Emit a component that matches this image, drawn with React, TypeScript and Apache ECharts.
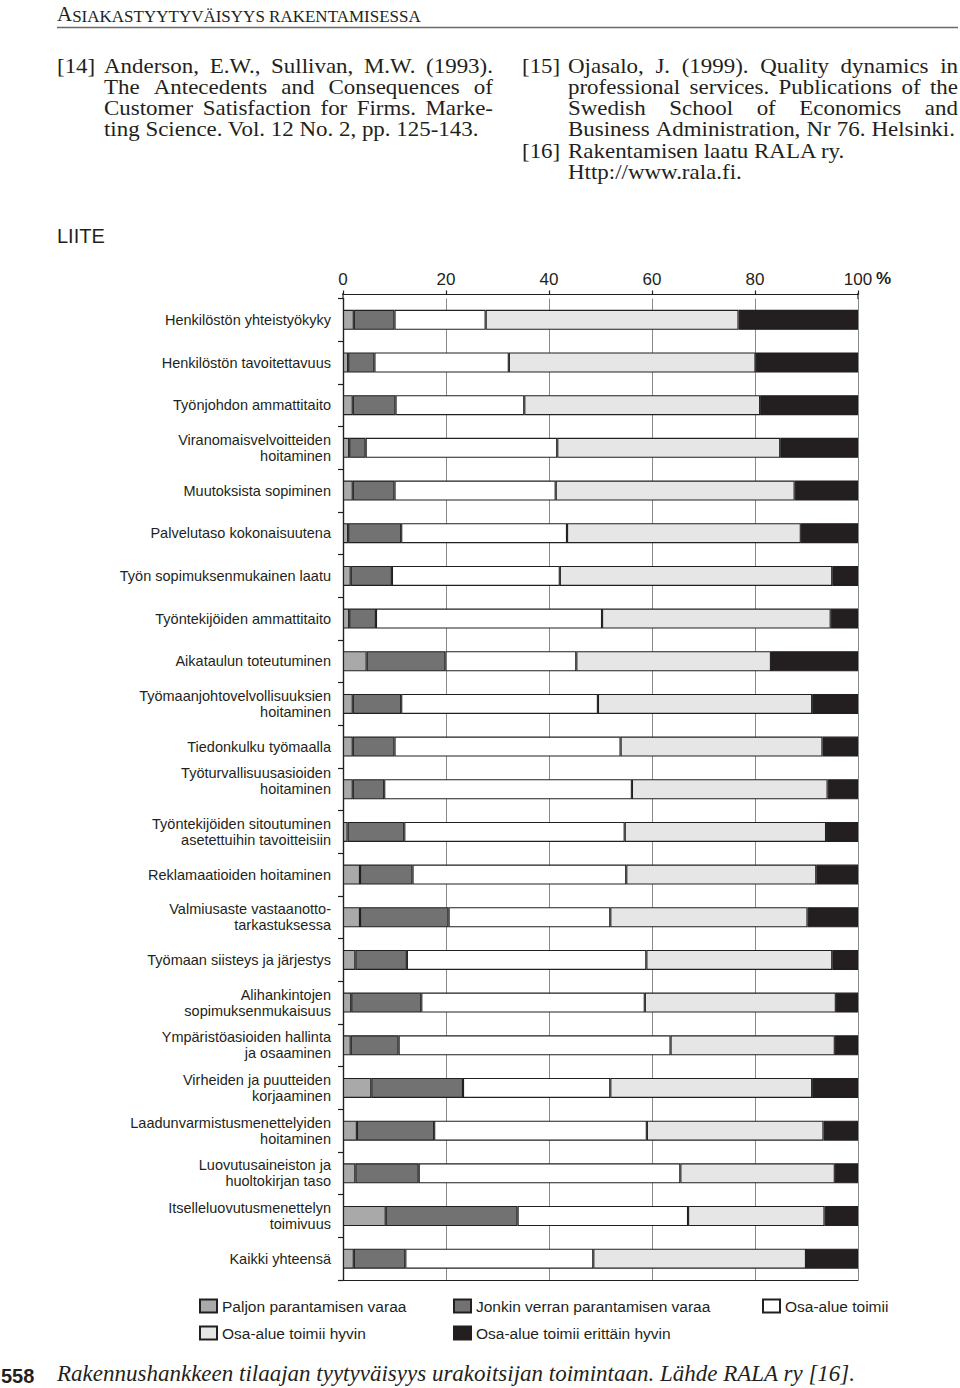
import React, { useEffect, useRef } from "react";
import * as echarts from "echarts";

const categories = [
  "Henkilöstön yhteistyökyky",
  "Henkilöstön tavoitettavuus",
  "Työnjohdon ammattitaito",
  "Viranomaisvelvoitteiden\nhoitaminen",
  "Muutoksista sopiminen",
  "Palvelutaso kokonaisuutena",
  "Työn sopimuksenmukainen laatu",
  "Työntekijöiden ammattitaito",
  "Aikataulun toteutuminen",
  "Työmaanjohtovelvollisuuksien\nhoitaminen",
  "Tiedonkulku työmaalla",
  "Työturvallisuusasioiden\nhoitaminen",
  "Työntekijöiden sitoutuminen\nasetettuihin tavoitteisiin",
  "Reklamaatioiden hoitaminen",
  "Valmiusaste vastaanotto-\ntarkastuksessa",
  "Työmaan siisteys ja järjestys",
  "Alihankintojen\nsopimuksenmukaisuus",
  "Ympäristöasioiden hallinta\nja osaaminen",
  "Virheiden ja puutteiden\nkorjaaminen",
  "Laadunvarmistusmenettelyiden\nhoitaminen",
  "Luovutusaineiston ja\nhuoltokirjan taso",
  "Itselleluovutusmenettelyn\ntoimivuus",
  "Kaikki yhteensä",
];

const seriesNames = [
  "Paljon parantamisen varaa",
  "Jonkin verran parantamisen varaa",
  "Osa-alue toimii",
  "Osa-alue toimii hyvin",
  "Osa-alue toimii erittäin hyvin",
];

const paljon = [2.1, 1.0, 1.9, 1.2, 1.9, 1.0, 1.5, 1.2, 4.6, 1.9, 1.9, 1.9, 0.9, 3.3, 3.3, 2.4, 1.6, 1.5, 5.5, 2.7, 2.4, 8.3, 2.1];
const jonkin = [7.9, 5.1, 8.3, 3.2, 8.1, 10.3, 8.0, 5.2, 15.3, 9.4, 8.1, 6.1, 11.0, 10.2, 17.2, 10.0, 13.6, 9.3, 17.8, 15.0, 12.3, 25.6, 10.0];
const toimii = [17.7, 26.1, 25.0, 37.2, 31.3, 32.2, 32.6, 43.9, 25.4, 38.2, 43.9, 48.1, 42.8, 41.5, 31.4, 46.5, 43.4, 52.8, 28.6, 41.3, 50.8, 33.1, 36.5];
const hyvin = [49.1, 47.9, 45.8, 43.3, 46.4, 45.4, 52.9, 44.4, 37.8, 41.6, 39.2, 38.0, 39.1, 36.9, 38.3, 36.1, 37.1, 31.9, 39.2, 34.3, 30.0, 26.5, 41.3];
const erittain = [23.2, 19.9, 19.0, 15.1, 12.3, 11.1, 5.0, 5.3, 16.9, 8.9, 6.9, 5.9, 6.2, 8.1, 9.8, 5.0, 4.3, 4.5, 8.9, 6.7, 4.5, 6.5, 10.1];

const xTicks = [0, 20, 40, 60, 80, 100];

const seriesColors = ["#a9a9a9", "#727272", "#ffffff", "#e6e6e6", "#231f20"];

const INK = "#231f20";
const SERIF = '"Liberation Serif", "Times New Roman", serif';
const SANS = '"Liberation Sans", Arial, Helvetica, sans-serif';

const RS = 20.5; // reference text font size
const RSX = 1.12; // horizontal stretch of the reference text

let measureCtx: CanvasRenderingContext2D | null = null;
function measure(text: string, size: number, family: string, style = "normal", weight = "normal") {
  if (!measureCtx) measureCtx = document.createElement("canvas").getContext("2d");
  if (!measureCtx) return text.length * size * 0.5;
  measureCtx.font = `${style} ${weight} ${size}px ${family}`;
  return measureCtx.measureText(text).width;
}

function textEl(text: string, x: number, y: number, size: number, family: string, extra: any = {}, el: any = {}) {
  return {
    type: "text",
    x,
    y,
    silent: true,
    ...el,
    style: {
      text,
      fill: INK,
      fontSize: size,
      fontFamily: family,
      align: "left",
      verticalAlign: "middle",
      textAlign: "left",
      textVerticalAlign: "middle",
      ...extra,
    },
  };
}

function refText(text: string, x: number, baseline: number) {
  return textEl(text, x, baseline - 0.33 * RS, RS, SERIF, {}, { scaleX: RSX });
}

function refLine(text: string, x0: number, x1: number, baseline: number, justify: boolean) {
  if (!justify) return [refText(text, x0, baseline)];
  const words = text.split(" ");
  const widths = words.map((w) => measure(w, RS, SERIF) * RSX);
  const total = widths.reduce((a, b) => a + b, 0);
  const gap = (x1 - x0 - total) / (words.length - 1);
  const out: any[] = [];
  let x = x0;
  words.forEach((w, i) => {
    out.push(refText(w, x, baseline));
    x += widths[i] + gap;
  });
  return out;
}

export default function App() {
  const ref = useRef<HTMLDivElement>(null);

  useEffect(() => {
    document.body.style.margin = "0";
    if (!ref.current) return;
    const chart = echarts.init(ref.current, undefined, { renderer: "svg" });

    const values = [paljon, jonkin, toimii, hyvin, erittain];

    const yData = categories.map((c, i) => (i === 11 ? c + "\n " : c));

    const legendText = { color: INK, fontFamily: SANS, fontSize: 15.5, lineHeight: 16 };
    const legendBase = {
      orient: "vertical",
      top: 1298,
      padding: 0,
      itemWidth: 17,
      itemHeight: 13,
      itemGap: 11,
      icon: "rect",
      selectedMode: false,
      textStyle: legendText,
    };

    chart.setOption({
      animation: false,
      backgroundColor: "#ffffff",
      grid: { left: 343, right: 102, top: 298.5, bottom: 108, containLabel: false },
      legend: [
        { ...legendBase, left: 199, data: [seriesNames[0], seriesNames[3]] },
        { ...legendBase, left: 453, data: [seriesNames[1], seriesNames[4]] },
        { ...legendBase, left: 762, data: [seriesNames[2]] },
      ],
      xAxis: [
        {
          type: "value",
          position: "top",
          offset: 4,
          min: 0,
          max: 100,
          interval: 20,
          axisLine: { show: true, lineStyle: { color: INK, width: 1.2 } },
          axisTick: { show: true, length: 4, lineStyle: { color: INK, width: 1.2 } },
          axisLabel: {
            color: INK,
            fontFamily: SANS,
            fontSize: 17,
            margin: 7,
            formatter: (v: number) => (xTicks.includes(v) ? String(v) : ""),
          },
          splitLine: { show: true, lineStyle: { color: "#8a8a8a", width: 1 } },
        },
        {
          type: "value",
          position: "bottom",
          min: 0,
          max: 100,
          interval: 20,
          axisLine: { show: true, lineStyle: { color: INK, width: 1.2 } },
          axisTick: { show: false },
          axisLabel: { show: false },
          splitLine: { show: false },
        },
      ],
      yAxis: [
        {
          type: "category",
          inverse: true,
          data: yData,
          axisLine: { show: true, lineStyle: { color: INK, width: 1.2 } },
          axisTick: { show: true, length: 5, inside: false, lineStyle: { color: INK, width: 1.2 } },
          axisLabel: {
            color: INK,
            fontFamily: SANS,
            fontSize: 14.5,
            lineHeight: 16,
            margin: 12,
            align: "right",
          },
          splitLine: { show: false },
        },
        {
          type: "category",
          inverse: true,
          position: "right",
          data: categories,
          axisLine: { show: true, lineStyle: { color: INK, width: 1.2 } },
          axisTick: { show: false },
          axisLabel: { show: false },
          splitLine: { show: false },
        },
      ],
      series: seriesNames.map((name, i) => ({
        name,
        type: "bar",
        stack: "total",
        xAxisIndex: 0,
        yAxisIndex: 0,
        barWidth: 20,
        data: values[i],
        itemStyle: { color: seriesColors[i], borderColor: INK, borderWidth: 1.1 },
        emphasis: { disabled: true },
      })),
    });

    const x100 = chart.convertToPixel({ xAxisIndex: 0 }, 100) as number;
    const x0 = chart.convertToPixel({ xAxisIndex: 0 }, 0) as number;

    const headRest = "SIAKASTYYTYVÄISYYS RAKENTAMISESSA";
    const aSize = 21;
    const wA = measure("A", aSize, SERIF);
    const restSize = Math.min(17, ((380 - wA) / measure(headRest, 100, SERIF)) * 100);

    const caption = "Rakennushankkeen tilaajan tyytyväisyys urakoitsijan toimintaan. Lähde RALA ry [16].";
    const capSize = (799 / measure(caption, 100, SERIF, "italic")) * 100;

    const graphics: any[] = [
      {
        type: "text",
        x: 57,
        y: 14,
        silent: true,
        style: {
          text: `{a|A}{b|${headRest}}`,
          fill: INK,
          verticalAlign: "middle",
          textVerticalAlign: "middle",
          rich: {
            a: { fontSize: aSize, fontFamily: SERIF, fill: INK, color: INK, verticalAlign: "bottom" },
            b: { fontSize: restSize, fontFamily: SERIF, fill: INK, color: INK, verticalAlign: "bottom" },
          },
        },
      },
      {
        type: "line",
        silent: true,
        shape: { x1: 57, y1: 27.5, x2: 958, y2: 27.5 },
        style: { stroke: "#6a6a6a", lineWidth: 1.5 },
      },
      refText("[14]", 57, 72.7),
      ...refLine("Anderson, E.W., Sullivan, M.W. (1993).", 104, 493, 72.7, true),
      ...refLine("The Antecedents and Consequences of", 104, 493, 94, true),
      ...refLine("Customer Satisfaction for Firms. Marke-", 104, 493, 115.3, true),
      ...refLine("ting Science. Vol. 12 No. 2, pp. 125-143.", 104, 493, 136.6, false),
      refText("[15]", 522, 72.7),
      ...refLine("Ojasalo, J. (1999). Quality dynamics in", 568, 958, 72.7, true),
      ...refLine("professional services. Publications of the", 568, 958, 94, true),
      ...refLine("Swedish School of Economics and", 568, 958, 115.3, true),
      ...refLine("Business Administration, Nr 76. Helsinki.", 568, 955, 136.6, true),
      refText("[16]", 522, 158),
      ...refLine("Rakentamisen laatu RALA ry.", 568, 958, 158, false),
      ...refLine("Http://www.rala.fi.", 568, 958, 179.5, false),
      textEl("LIITE", 57, 236, 20, SANS),
      textEl("%", x100 + 18, 278, 17, SANS, { fontWeight: "bold" }),
      {
        type: "line",
        silent: true,
        shape: { x1: x0, y1: 293, x2: x0, y2: 299 },
        style: { stroke: INK, lineWidth: 1.2 },
      },
      {
        type: "line",
        silent: true,
        shape: { x1: x100, y1: 293, x2: x100, y2: 299 },
        style: { stroke: INK, lineWidth: 1.2 },
      },
      textEl("558", 1, 1376, 20, SANS, { fontWeight: "bold" }),
      textEl(caption, 57, 1373, capSize, SERIF, { fontStyle: "italic" }),
    ];

    chart.setOption({ graphic: graphics });

    return () => chart.dispose();
  }, []);

  return <div ref={ref} style={{ width: 960, height: 1388 }} />;
}
